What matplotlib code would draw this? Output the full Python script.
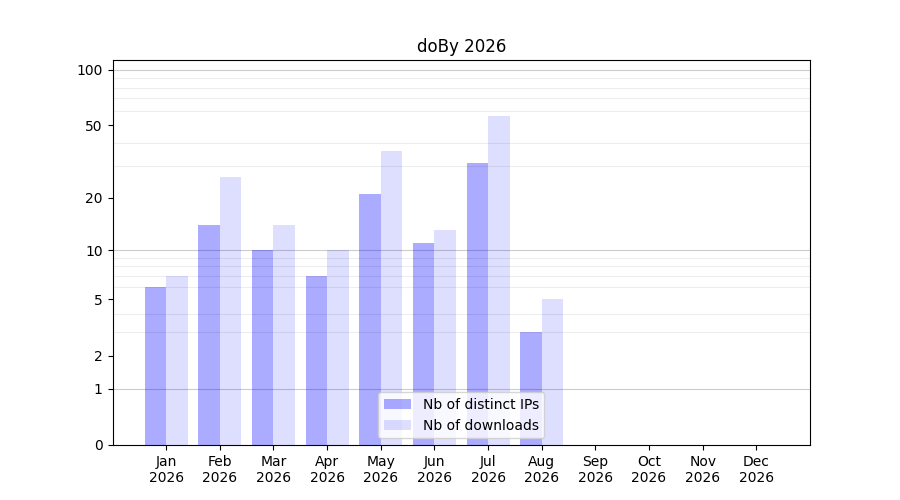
import numpy as np
import matplotlib.pyplot as plt

year = 2026
months = ["Jan", "Feb", "Mar", "Apr", "May", "Jun",
          "Jul", "Aug", "Sep", "Oct", "Nov", "Dec"]
# only Jan..Aug have data
nb_ips = [6, 14, 10, 7, 21, 11, 31, 3]
nb_downloads = [7, 26, 14, 10, 36, 13, 56, 5]

y_ticks = [0, 1, 2, 5, 10, 20, 50, 100]
y_minor = [2, 3, 4, 5, 6, 7, 8, 9, 20, 30, 40, 50, 60, 70, 80, 90]


def fwd(y):
    return np.log10(1 + np.clip(y, 0, None))


def inv(y):
    return 10**y - 1


fig, ax = plt.subplots(figsize=(9, 5), dpi=100)

x = np.arange(len(nb_ips))
w = 0.4
ax.bar(x - w / 2, nb_ips, width=w, color="blue", alpha=0.33,
       label="Nb of distinct IPs")
ax.bar(x + w / 2, nb_downloads, width=w, color="blue", alpha=0.13,
       label="Nb of downloads")

ax.set_yscale("function", functions=(fwd, inv))
ax.set_ylim(0, 113)
ax.set_yticks(y_ticks)
ax.set_yticklabels([str(t) for t in y_ticks])
ax.set_yticks(y_minor, minor=True)
ax.tick_params(axis="y", which="minor", length=0)
ax.grid(axis="y", which="minor", color="black", alpha=0.07, linewidth=0.8)
for v in [1, 10, 100]:
    ax.axhline(v, color="black", alpha=0.2, linewidth=0.8, zorder=0.5)

ax.set_xticks(np.arange(12))
ax.set_xticklabels([f"{m}\n{year}" for m in months])
ax.set_xlim(-1, 12)

ax.set_title(f"doBy {year}")
ax.legend(loc="lower center")

plt.savefig("out.png")
